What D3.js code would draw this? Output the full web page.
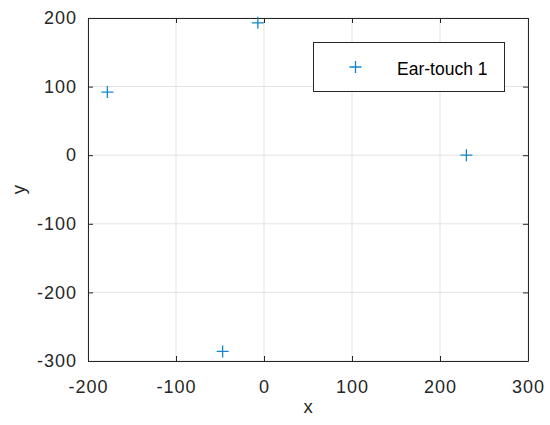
<!DOCTYPE html>
<html>
<head>
<meta charset="utf-8">
<script src="https://cdn.jsdelivr.net/npm/d3@7"></script>
<style>
  body { margin: 0; background: #fff; }
  svg { font-family: "Liberation Sans", Arial, sans-serif; }
</style>
</head>
<body>
<svg id="chart" width="550" height="425"></svg>
<script>
// data
const seriesName = "Ear-touch 1";
const xs = [-178, -7, 230, -47];
const ys = [92, 193, 0, -286];
const xTicks = [-200, -100, 0, 100, 200, 300];
const yTicks = [-300, -200, -100, 0, 100, 200];

const width = 550;
const height = 425;
const marginLeft = 88;
const marginRight = 22;
const marginTop = 18;
const marginBottom = 64;
const markerColor = "#1486c8";
const axisColor = "#262626";

const svg = d3.select("#chart");

const xscale = d3.scaleLinear()
    .domain([-200, 300])
    .range([marginLeft, width - marginRight]);
const yscale = d3.scaleLinear()
    .domain([-300, 200])
    .range([height - marginBottom, marginTop]);

const x0 = xscale.range()[0], x1 = xscale.range()[1];
const y0 = yscale.range()[0], y1 = yscale.range()[1];

// grid
const grid = svg.append("g").attr("id", "grid");
grid.selectAll("line.gx")
    .data(xTicks)
    .join("line")
    .attr("class", "gx")
    .attr("x1", d => xscale(d)).attr("x2", d => xscale(d))
    .attr("y1", y0).attr("y2", y1)
    .style("stroke", "#e3e3e3").style("stroke-width", 1);
grid.selectAll("line.gy")
    .data(yTicks)
    .join("line")
    .attr("class", "gy")
    .attr("x1", x0).attr("x2", x1)
    .attr("y1", d => yscale(d)).attr("y2", d => yscale(d))
    .style("stroke", "#e3e3e3").style("stroke-width", 1);

// axes, ticks pointing inward on all four sides
const axes = svg.append("g").attr("id", "axes");
const tickLen = 5;
const fmt = d => String(d);   // plain hyphen, not unicode minus

axes.append("g")
    .attr("transform", `translate(${[0, y0]})`)
    .call(d3.axisBottom(xscale).tickValues(xTicks).tickFormat(fmt)
          .tickSizeInner(-tickLen).tickSizeOuter(0).tickPadding(19));
axes.append("g")
    .attr("transform", `translate(${[0, y1]})`)
    .call(d3.axisTop(xscale).tickValues(xTicks).tickSizeInner(-tickLen).tickSizeOuter(0).tickFormat(""));
axes.append("g")
    .attr("transform", `translate(${[x0, 0]})`)
    .call(d3.axisLeft(yscale).tickValues(yTicks).tickFormat(fmt)
          .tickSizeInner(-tickLen).tickSizeOuter(0).tickPadding(11));
axes.append("g")
    .attr("transform", `translate(${[x1, 0]})`)
    .call(d3.axisRight(yscale).tickValues(yTicks).tickSizeInner(-tickLen).tickSizeOuter(0).tickFormat(""));

axes.selectAll("path.domain").style("stroke", axisColor).style("stroke-width", 1);
axes.selectAll(".tick line").style("stroke", axisColor).style("stroke-width", 1);
axes.selectAll(".tick text")
    .attr("fill", axisColor)
    .attr("font-size", 18)
    .attr("letter-spacing", 1)
    .attr("font-family", "Liberation Sans, Arial, sans-serif");

// axis labels
svg.append("text")
    .text("x")
    .attr("x", (x0 + x1) / 2)
    .attr("y", 413)
    .attr("text-anchor", "middle")
    .attr("font-size", 18.5)
    .attr("fill", axisColor);
svg.append("text")
    .text("y")
    .attr("text-anchor", "middle")
    .attr("font-size", 18.5)
    .attr("fill", axisColor)
    .attr("transform", `translate(${[25, (y0 + y1) / 2]}) rotate(270)`);

// markers
const plus = (cx, cy, r) => `M${cx - r},${cy}H${cx + r}M${cx},${cy - r}V${cy + r}`;
const points = xs.map((x, i) => [x, ys[i]]);

svg.append("g").attr("id", "points")
    .selectAll("path")
    .data(points)
    .join("path")
    .attr("d", d => plus(xscale(d[0]), yscale(d[1]), 6))
    .style("stroke", markerColor)
    .style("stroke-width", 1.3)
    .style("fill", "none");

// legend
const legend = svg.append("g").attr("id", "legend");
legend.append("rect")
    .attr("x", 313.5).attr("y", 42.5)
    .attr("width", 191).attr("height", 49)
    .style("fill", "#fff")
    .style("stroke", axisColor)
    .style("stroke-width", 1);
legend.append("path")
    .attr("d", plus(355.5, 67, 6))
    .style("stroke", markerColor)
    .style("stroke-width", 1.3);
legend.append("text")
    .text(seriesName)
    .attr("x", 397)
    .attr("y", 75)
    .attr("font-size", 17.5)
    .attr("fill", "#000");
</script>
</body>
</html>
